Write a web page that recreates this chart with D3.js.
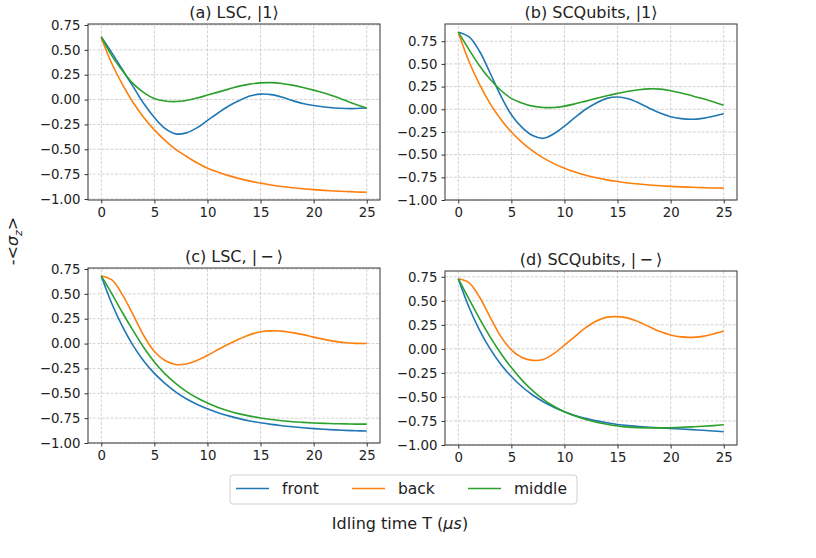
<!DOCTYPE html>
<html><head><meta charset="utf-8">
<script src="https://cdn.jsdelivr.net/npm/d3@7"></script>
<style>
body{margin:0;background:#fff;}
svg{display:block;font-family:"DejaVu Sans",sans-serif;}
</style></head>
<body><svg id="c" width="816" height="558"></svg>
<script>
// Idling time samples (µs)
const T = [0,1,2,3,4,5,6,7,8,9,10,11,12,13,14,15,16,17,18,19,20,21,22,23,24,25];
const xTicks = [0,5,10,15,20,25];
const yTicks = [-1.0,-0.75,-0.5,-0.25,0,0.25,0.5,0.75];
const seriesNames = ["front","back","middle"];
const colors = ["#1f77b4","#ff7f0e","#2ca02c"];
const titles = ["(a) LSC, |1\u27E9","(b) SCQubits, |1\u27E9","(c) LSC, |\u2009\u2212\u2009\u27E9","(d) SCQubits, |\u2009\u2212\u2009\u27E9"];

// (a) LSC |1>
const aFront  = [0.63,0.47,0.30,0.13,-0.04,-0.18,-0.29,-0.345,-0.335,-0.285,-0.21,-0.135,-0.065,-0.01,0.035,0.055,0.05,0.025,-0.01,-0.04,-0.06,-0.075,-0.085,-0.09,-0.09,-0.085];
const aBack   = [0.62,0.36,0.15,-0.03,-0.18,-0.305,-0.41,-0.50,-0.57,-0.635,-0.69,-0.73,-0.765,-0.795,-0.82,-0.84,-0.86,-0.875,-0.887,-0.897,-0.906,-0.913,-0.919,-0.924,-0.929,-0.932];
const aMiddle = [0.63,0.44,0.29,0.16,0.07,0.01,-0.015,-0.02,-0.01,0.015,0.045,0.075,0.105,0.135,0.155,0.168,0.17,0.162,0.145,0.122,0.095,0.065,0.03,-0.01,-0.05,-0.085];
// (b) SCQubits |1>
const bFront  = [0.85,0.80,0.64,0.40,0.15,-0.06,-0.20,-0.29,-0.32,-0.27,-0.185,-0.09,0.0,0.07,0.12,0.135,0.115,0.07,0.012,-0.042,-0.082,-0.103,-0.11,-0.10,-0.077,-0.05];
const bBack   = [0.85,0.53,0.275,0.063,-0.109,-0.25,-0.365,-0.459,-0.536,-0.599,-0.65,-0.692,-0.727,-0.755,-0.778,-0.796,-0.812,-0.824,-0.834,-0.843,-0.85,-0.855,-0.86,-0.864,-0.867,-0.869];
const bMiddle = [0.85,0.66,0.48,0.33,0.21,0.12,0.07,0.035,0.02,0.02,0.035,0.06,0.09,0.12,0.15,0.175,0.198,0.215,0.225,0.222,0.205,0.18,0.15,0.118,0.082,0.045];
// (c) LSC |->
const cFront  = [0.68,0.40,0.17,-0.02,-0.175,-0.30,-0.40,-0.485,-0.555,-0.61,-0.655,-0.695,-0.727,-0.755,-0.778,-0.797,-0.813,-0.826,-0.837,-0.847,-0.855,-0.862,-0.868,-0.873,-0.877,-0.88];
const cBack   = [0.68,0.64,0.49,0.29,0.08,-0.08,-0.17,-0.21,-0.205,-0.17,-0.118,-0.06,-0.005,0.045,0.09,0.118,0.128,0.125,0.11,0.09,0.065,0.042,0.022,0.008,0.002,0.0];
const cMiddle = [0.68,0.50,0.31,0.13,-0.04,-0.185,-0.305,-0.40,-0.48,-0.545,-0.598,-0.642,-0.678,-0.707,-0.73,-0.749,-0.764,-0.776,-0.786,-0.793,-0.799,-0.803,-0.806,-0.808,-0.81,-0.81];
// (d) SCQubits |->
const dFront  = [0.73,0.436,0.196,0.0,-0.159,-0.288,-0.394,-0.48,-0.55,-0.607,-0.654,-0.693,-0.723,-0.749,-0.769,-0.786,-0.798,-0.807,-0.815,-0.822,-0.828,-0.834,-0.84,-0.847,-0.854,-0.862];
const dBack   = [0.73,0.69,0.54,0.33,0.13,-0.01,-0.09,-0.12,-0.11,-0.05,0.04,0.13,0.22,0.29,0.33,0.335,0.32,0.28,0.23,0.18,0.145,0.125,0.12,0.13,0.155,0.185];
const dMiddle = [0.73,0.52,0.315,0.125,-0.045,-0.195,-0.325,-0.435,-0.525,-0.597,-0.654,-0.699,-0.735,-0.763,-0.785,-0.802,-0.814,-0.82,-0.822,-0.822,-0.82,-0.816,-0.811,-0.805,-0.798,-0.79];

const panels = [
  {title:titles[0], series:[aFront,aBack,aMiddle], xr:[88,380], yr:[200,24], yd:[-1.01,0.76]},
  {title:titles[1], series:[bFront,bBack,bMiddle], xr:[445,737], yr:[200,24], yd:[-1.0,0.94]},
  {title:titles[2], series:[cFront,cBack,cMiddle], xr:[88,380], yr:[443,268], yd:[-1.0,0.76]},
  {title:titles[3], series:[dFront,dBack,dMiddle], xr:[445,737], yr:[445,271], yd:[-1.0,0.81]}
];

const svg = d3.select("#c");
const fmt = v => d3.format(".2f")(v).replace("-","\u2212");

panels.forEach(p => {
  const x = d3.scaleLinear().domain([-1.25,26.25]).range(p.xr);
  const y = d3.scaleLinear().domain(p.yd).range(p.yr);
  const g = svg.append("g");
  // grid
  g.append("g").selectAll("line").data(xTicks).join("line")
    .attr("x1",d=>x(d)).attr("x2",d=>x(d)).attr("y1",p.yr[0]).attr("y2",p.yr[1])
    .attr("stroke","#c8c8c8").attr("stroke-width",0.8).attr("stroke-dasharray","3,1.5");
  g.append("g").selectAll("line").data(yTicks).join("line")
    .attr("y1",d=>y(d)).attr("y2",d=>y(d)).attr("x1",p.xr[0]).attr("x2",p.xr[1])
    .attr("stroke","#c8c8c8").attr("stroke-width",0.8).attr("stroke-dasharray","3,1.5");
  // lines
  const line = d3.line().x((d,i)=>x(T[i])).y(d=>y(d)).curve(d3.curveCatmullRom.alpha(0.5));
  p.series.forEach((s,k)=>{
    g.append("path").datum(s).attr("d",line).attr("fill","none")
      .attr("stroke",colors[k]).attr("stroke-width",1.6);
  });
  // axes
  const xa = g.append("g").attr("transform",`translate(0,${p.yr[0]})`)
    .call(d3.axisBottom(x).tickValues(xTicks).tickSize(3.5).tickPadding(4).tickFormat(d3.format("d")));
  const ya = g.append("g").attr("transform",`translate(${p.xr[0]},0)`)
    .call(d3.axisLeft(y).tickValues(yTicks).tickSize(3.5).tickPadding(4).tickFormat(fmt));
  [xa,ya].forEach(a=>{
    a.select(".domain").remove();
    a.selectAll("line").attr("stroke","#333");
    a.selectAll("text").attr("font-size","13.3px").attr("fill","#222").attr("font-family","DejaVu Sans");
  });
  // frame
  g.append("rect").attr("x",p.xr[0]).attr("y",p.yr[1]).attr("width",p.xr[1]-p.xr[0]).attr("height",p.yr[0]-p.yr[1])
    .attr("fill","none").attr("stroke","#333").attr("stroke-width",1);
  // title
  g.append("text").attr("x",(p.xr[0]+p.xr[1])/2).attr("y",p.yr[1]-6).attr("text-anchor","middle")
    .attr("font-size","16px").attr("fill","#222").text(p.title);
});

// y label
const yl = svg.append("text").attr("transform","translate(18,241) rotate(-90)").attr("text-anchor","middle")
  .attr("font-size","16px").attr("fill","#222");
yl.append("tspan").text("-<");
yl.append("tspan").attr("font-style","italic").text("\u03C3");
yl.append("tspan").attr("font-size","11px").attr("dy",4).attr("font-style","italic").text("z");
yl.append("tspan").attr("dy",-4).text(">");

// x label
svg.append("text").attr("x",400).attr("y",529).attr("text-anchor","middle").attr("font-size","16px").attr("fill","#222")
  .html('Idling time T (<tspan font-style="italic">\u03BC</tspan><tspan font-style="italic">s</tspan>)');

// legend
const lg = svg.append("g");
lg.append("rect").attr("x",230).attr("y",475).attr("width",347).attr("height",29).attr("rx",3)
  .attr("fill","#fff").attr("stroke","#d0d0d0").attr("stroke-width",1);
const lx = [236,352,468];
seriesNames.forEach((n,i)=>{
  lg.append("line").attr("x1",lx[i]).attr("x2",lx[i]+33).attr("y1",488.5).attr("y2",488.5)
    .attr("stroke",colors[i]).attr("stroke-width",1.6);
  lg.append("text").attr("x",lx[i]+46).attr("y",494).attr("font-size","15.5px").attr("fill","#222").text(n);
});
</script></body></html>
